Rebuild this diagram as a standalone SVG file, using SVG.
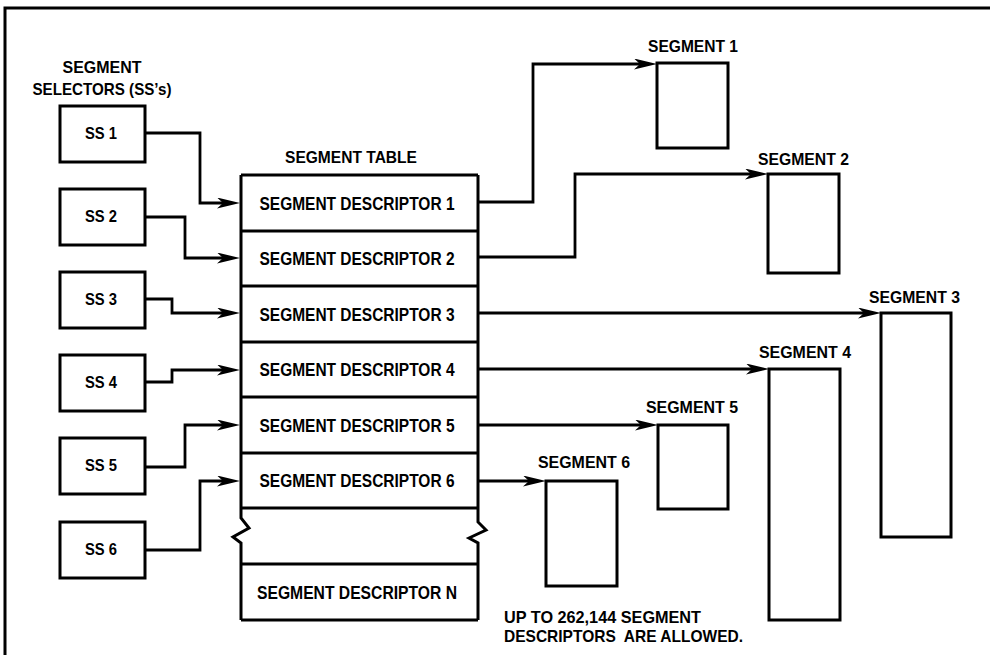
<svg xmlns="http://www.w3.org/2000/svg" width="990" height="655" viewBox="0 0 990 655">
<style>
.box{fill:#fff;stroke:#000;stroke-width:3}
.ln{fill:none;stroke:#000;stroke-width:3}
.conn{fill:none;stroke:#000;stroke-width:2.8;marker-end:url(#ah)}
text{font-family:"Liberation Sans",Arial,sans-serif;font-weight:bold;fill:#000}
.lbl{font-size:17px}
.desc{font-size:18px;text-anchor:middle}
.ss{font-size:17px;text-anchor:middle}
</style>
<defs>
<marker id="ah" viewBox="0 0 23 11" refX="15" refY="5.5" markerWidth="23" markerHeight="11" markerUnits="userSpaceOnUse" orient="auto">
<path d="M0,0 L23,5.5 L0,11 L6,5.5 z" fill="#000"/>
</marker>
</defs>
<rect width="990" height="655" fill="#fff"/>
<path class="ln" d="M5,655 V8 H990"/>

<g id="header">
<text class="lbl" x="102" y="73" text-anchor="middle" textLength="79" lengthAdjust="spacingAndGlyphs">SEGMENT</text>
<text class="lbl" x="102" y="95" text-anchor="middle" textLength="139" lengthAdjust="spacingAndGlyphs">SELECTORS (SS’s)</text>
</g>

<g id="ss1"><rect class="box" x="60" y="106" width="85" height="56"/><text class="ss" x="101" y="139" textLength="32" lengthAdjust="spacingAndGlyphs">SS 1</text></g>
<g id="ss2"><rect class="box" x="60" y="189" width="85" height="56"/><text class="ss" x="101" y="222" textLength="32" lengthAdjust="spacingAndGlyphs">SS 2</text></g>
<g id="ss3"><rect class="box" x="60" y="272" width="85" height="56"/><text class="ss" x="101" y="305" textLength="32" lengthAdjust="spacingAndGlyphs">SS 3</text></g>
<g id="ss4"><rect class="box" x="60" y="355" width="85" height="56"/><text class="ss" x="101" y="388" textLength="32" lengthAdjust="spacingAndGlyphs">SS 4</text></g>
<g id="ss5"><rect class="box" x="60" y="438" width="85" height="56"/><text class="ss" x="101" y="471" textLength="32" lengthAdjust="spacingAndGlyphs">SS 5</text></g>
<g id="ss6"><rect class="box" x="60" y="522" width="85" height="56"/><text class="ss" x="101" y="555" textLength="32" lengthAdjust="spacingAndGlyphs">SS 6</text></g>

<g id="segment-table">
<text class="lbl" x="351" y="163" text-anchor="middle" textLength="132" lengthAdjust="spacingAndGlyphs">SEGMENT TABLE</text>
<path class="ln" d="M241,175 V518 L249,528 L233,537 L241,543 V620"/>
<path class="ln" d="M478,175 V522 L486,530 L469,538 L478,543 V620"/>
<path class="ln" d="M241,175 H478 M241,231 H478 M241,286 H478 M241,342 H478 M241,397 H478 M241,453 H478 M241,508 H478 M241,564 H478 M241,620 H478"/>
<text class="desc" x="357" y="210" textLength="195" lengthAdjust="spacingAndGlyphs">SEGMENT DESCRIPTOR 1</text>
<text class="desc" x="357" y="265" textLength="195" lengthAdjust="spacingAndGlyphs">SEGMENT DESCRIPTOR 2</text>
<text class="desc" x="357" y="321" textLength="195" lengthAdjust="spacingAndGlyphs">SEGMENT DESCRIPTOR 3</text>
<text class="desc" x="357" y="376" textLength="195" lengthAdjust="spacingAndGlyphs">SEGMENT DESCRIPTOR 4</text>
<text class="desc" x="357" y="432" textLength="195" lengthAdjust="spacingAndGlyphs">SEGMENT DESCRIPTOR 5</text>
<text class="desc" x="357" y="487" textLength="195" lengthAdjust="spacingAndGlyphs">SEGMENT DESCRIPTOR 6</text>
<text class="desc" x="357" y="599" textLength="200" lengthAdjust="spacingAndGlyphs">SEGMENT DESCRIPTOR N</text>
</g>

<g id="seg1"><text class="lbl" x="648" y="52" textLength="90" lengthAdjust="spacingAndGlyphs">SEGMENT 1</text><rect class="box" x="657" y="63" width="71" height="85"/></g>
<g id="seg2"><text class="lbl" x="758" y="165" textLength="91" lengthAdjust="spacingAndGlyphs">SEGMENT 2</text><rect class="box" x="768" y="174" width="71" height="99"/></g>
<g id="seg3"><text class="lbl" x="869" y="303" textLength="91" lengthAdjust="spacingAndGlyphs">SEGMENT 3</text><rect class="box" x="881" y="313" width="70" height="224"/></g>
<g id="seg4"><text class="lbl" x="759" y="358" textLength="92" lengthAdjust="spacingAndGlyphs">SEGMENT 4</text><rect class="box" x="769" y="369" width="71" height="251"/></g>
<g id="seg5"><text class="lbl" x="646" y="413" textLength="92" lengthAdjust="spacingAndGlyphs">SEGMENT 5</text><rect class="box" x="658" y="425" width="70" height="84"/></g>
<g id="seg6"><text class="lbl" x="538" y="468" textLength="92" lengthAdjust="spacingAndGlyphs">SEGMENT 6</text><rect class="box" x="546" y="481" width="71" height="105"/></g>

<g id="note">
<text class="lbl" x="504" y="623" textLength="197" lengthAdjust="spacingAndGlyphs">UP TO 262,144 SEGMENT</text>
<text class="lbl" x="504" y="642" textLength="239" lengthAdjust="spacingAndGlyphs" xml:space="preserve">DESCRIPTORS  ARE ALLOWED.</text>
</g>

<g id="connectors">
<path class="conn" d="M145,133 H200 V203 H232"/>
<path class="conn" d="M145,217 H185 V258 H232"/>
<path class="conn" d="M145,299 H172 V313 H232"/>
<path class="conn" d="M145,382 H172 V370 H232"/>
<path class="conn" d="M145,467 H185 V425 H232"/>
<path class="conn" d="M145,550 H200 V481 H232"/>
<path class="conn" d="M478,202 H533 V64 H649"/>
<path class="conn" d="M478,257 H575 V174 H760"/>
<path class="conn" d="M478,313 H873"/>
<path class="conn" d="M478,369 H761"/>
<path class="conn" d="M478,425 H650"/>
<path class="conn" d="M478,481 H538"/>
</g>
</svg>
